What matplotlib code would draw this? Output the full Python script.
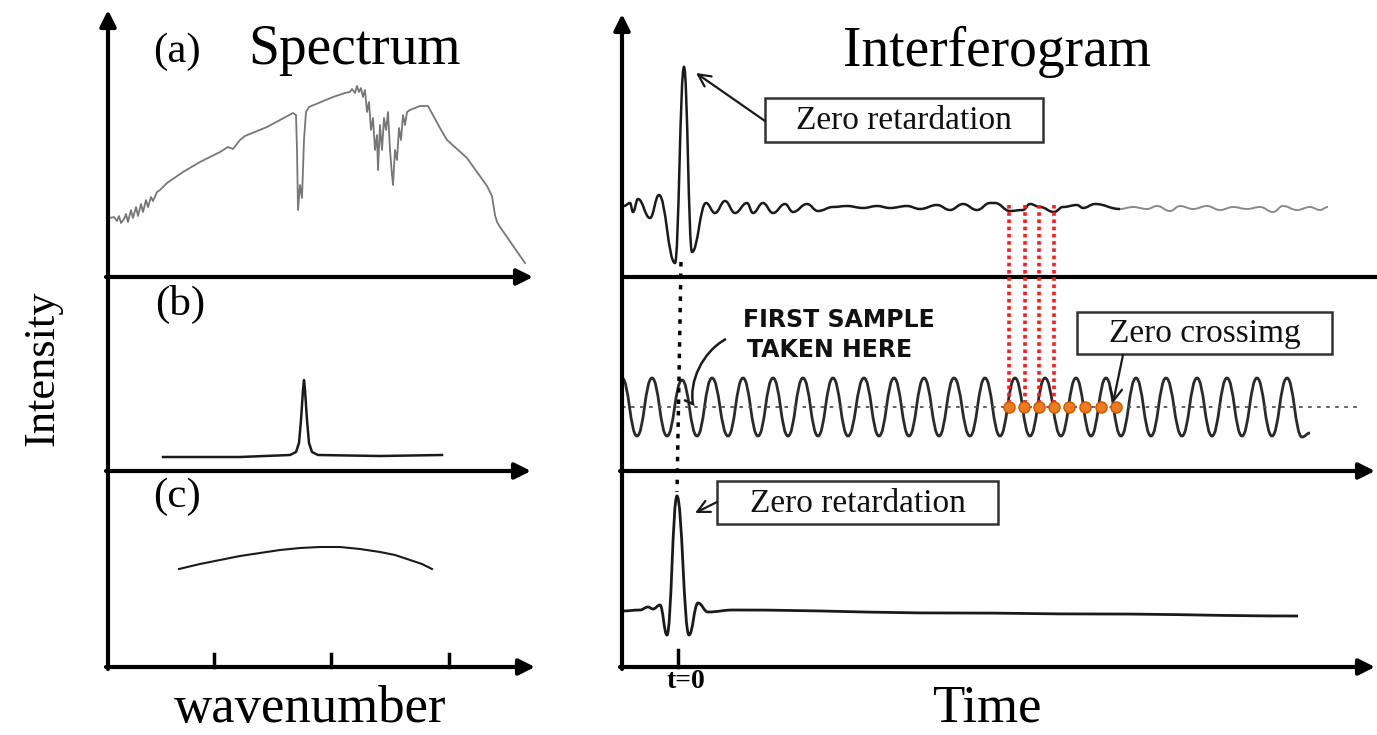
import numpy as np
import matplotlib
matplotlib.use("Agg")
import matplotlib.pyplot as plt
from matplotlib.path import Path
from matplotlib.patches import PathPatch, Rectangle

# all values, in picture pixels (x right, y down)

# (a) spectrum trace
spec_x = [110, 114, 117, 119, 121, 124, 126, 128, 131, 133, 136, 138, 141, 143, 146, 148,
          151, 153, 157, 160, 167, 183, 200, 220, 228, 233, 240, 245, 267, 293, 296, 297,
          298, 300, 302, 304, 306, 309, 333, 345, 350, 352, 355, 357, 359, 361, 363, 365,
          367, 369, 371, 373, 375, 377, 378, 380, 382, 384, 386, 388, 390, 392, 393, 395,
          397, 399, 401, 403, 405, 407, 410, 415, 420, 428, 440, 447, 467, 487, 492, 495,
          497, 500, 525]
spec_y = [218, 217, 221, 216, 223, 219, 214, 222, 210, 218, 207, 216, 204, 212, 200, 207,
          197, 201, 192, 190, 183, 172, 162, 152, 147, 149, 140, 136, 127, 113, 115, 150,
          210, 185, 198, 140, 112, 107, 97, 93, 92, 89, 93, 86, 92, 88, 97, 90,
          112, 102, 130, 118, 150, 135, 170, 125, 150, 118, 130, 112, 150, 175, 185, 150,
          160, 128, 140, 115, 125, 112, 110, 108, 106, 106, 128, 140, 158, 186, 196, 215,
          222, 227, 263]

# (b) single line
line_x = [163, 240, 290, 296, 299, 301, 303, 304, 305, 307, 309, 312, 318, 380, 442]
line_y = [457, 457, 455, 452, 443, 420, 390, 380, 390, 420, 443, 452, 455, 456, 455]

# (c) broad band
band_x = [179, 200, 220, 240, 260, 280, 300, 320, 340, 360, 380, 395, 410, 422, 432]
band_y = [569, 564, 560, 556, 553, 550, 548, 547, 547, 549, 552, 555, 560, 564, 569]

# interferogram (a): extrema of the trace
ifg_a_x = [624, 630, 633, 638, 650, 659, 675, 684, 692, 706, 715, 725, 735, 747, 753, 763,
           773, 785, 793, 807, 818, 833, 847, 863, 877, 890, 907, 920, 937, 950, 963, 977,
           990, 995, 1010, 1023, 1030, 1040, 1054, 1063, 1077, 1083, 1095, 1120]
ifg_a_y = [206, 203, 212, 199, 218, 195, 263, 67, 252, 203, 213, 201, 213, 203, 213, 203,
           213, 204, 212, 204, 211, 207, 206, 208, 206, 208, 206, 209, 205, 210, 204, 210,
           203, 203, 211, 210, 204, 207, 212, 207, 205, 208, 204, 209]
ifg_a_tail_x = [1120, 1133, 1147, 1157, 1170, 1180, 1193, 1207, 1220, 1233, 1247, 1260,
                1273, 1283, 1297, 1310, 1320, 1328]
ifg_a_tail_y = [209, 207, 209, 206, 211, 206, 209, 206, 210, 207, 209, 207,
                212, 206, 210, 207, 210, 207]

# interferogram (b): peaks / troughs of the monochromatic cosine
cos_x = [622, 637, 652, 667, 682, 697, 712, 728, 743, 758, 773, 788, 803, 818, 833, 848,
         864, 879, 894, 909, 924, 939, 954, 970, 985, 1000, 1015, 1030, 1045, 1061, 1076,
         1091, 1106, 1121, 1136, 1151, 1166, 1182, 1197, 1212, 1227, 1242, 1257, 1272,
         1287, 1302, 1310]
cos_y = [378, 436, 378, 436, 380, 436, 378, 436, 378, 436, 378, 436, 378, 436, 378, 436,
         378, 436, 378, 436, 378, 436, 378, 436, 378, 436, 378, 436, 378, 436, 378,
         436, 378, 436, 378, 436, 378, 436, 378, 436, 378, 436, 378, 436,
         378, 437, 433]
zero_y = 407
cross_x = [1009, 1024, 1039, 1054, 1069, 1085, 1101, 1116]
sample_x = [1009, 1025, 1039, 1054]

# interferogram (c): extrema of the trace
ifg_c_x = [622, 640, 648, 653, 660, 667, 677, 689, 698, 708, 733, 953, 1100, 1298]
ifg_c_y = [611, 610, 607, 609, 605, 635, 496, 635, 603, 612, 610, 613, 614, 616]

spec_ticks = [214, 331, 449]


def smooth_path(xs, ys, k=0.42):
    # cubic segments with flat tangents at every listed extremum
    verts = [(xs[0], ys[0])]
    codes = [Path.MOVETO]
    for i in range(1, len(xs)):
        h = xs[i] - xs[i - 1]
        verts += [(xs[i - 1] + k * h, ys[i - 1]), (xs[i] - k * h, ys[i]), (xs[i], ys[i])]
        codes += [Path.CURVE4] * 3
    return Path(verts, codes)


fig = plt.figure(figsize=(13.77, 7.35), dpi=100)
ax = fig.add_axes([0, 0, 1, 1])
ax.set_xlim(0, 1377)
ax.set_ylim(735, 0)
ax.axis('off')

serif = 'Liberation Serif'
ink = '#1a1a1a'

# axes frames
arw = dict(arrowstyle='-|>', lw=3, color='k', mutation_scale=24, shrinkA=0, shrinkB=0)
ax.annotate('', xy=(108, 10), xytext=(108, 669), arrowprops=arw)
ax.annotate('', xy=(622, 14), xytext=(622, 669), arrowprops=arw)
ax.annotate('', xy=(533, 277), xytext=(106, 277), arrowprops=arw)
ax.annotate('', xy=(531, 471), xytext=(106, 471), arrowprops=arw)
ax.annotate('', xy=(535, 667), xytext=(106, 667), arrowprops=arw)
ax.plot([620, 1377], [277, 277], color='k', lw=3, solid_capstyle='butt')
ax.annotate('', xy=(1375, 471), xytext=(620, 471), arrowprops=arw)
ax.annotate('', xy=(1375, 667), xytext=(620, 667), arrowprops=arw)
for tx in spec_ticks:
    ax.plot([tx, tx], [667, 654], color='k', lw=2.5)
ax.plot([678, 678], [667, 650], color='k', lw=2.5)

# spectra
ax.plot(spec_x, spec_y, color='#777777', lw=1.3)
ax.plot(line_x, line_y, color=ink, lw=1.8)
ax.plot(band_x, band_y, color=ink, lw=1.5)

# interferograms
ax.add_patch(PathPatch(smooth_path(ifg_a_x, ifg_a_y), fill=False, ec=ink, lw=1.8))
ax.add_patch(PathPatch(smooth_path(ifg_a_tail_x, ifg_a_tail_y), fill=False, ec='#8a8a8a', lw=1.4))
ax.plot([622, 1362], [zero_y, zero_y], color='#555555', lw=1.3, ls=(0, (2, 3)))
ax.add_patch(PathPatch(smooth_path(cos_x, cos_y, k=0.45), fill=False, ec='#2a2a2a', lw=2.0))
ax.add_patch(PathPatch(smooth_path(ifg_c_x, ifg_c_y), fill=False, ec=ink, lw=2.0))

# sampling marks
ax.plot([681, 677], [262, 492], color='k', lw=2.5, ls=(0, (1.3, 2)))
for sx in sample_x:
    ax.plot([sx, sx], [205, zero_y], color='#ff1a1a', lw=2.6, ls=(0, (1, 1)))
ax.plot(cross_x, [zero_y] * len(cross_x), 'o', ms=8, mfc='#f07a1e', mec='#c85a00', mew=1, zorder=5)

# boxed labels
for (x0, y0, x1, y1), lab in [((765, 98, 1043, 142), 'Zero retardation'),
                              ((717, 481, 998, 524), 'Zero retardation'),
                              ((1077, 312, 1332, 354), 'Zero crossimg')]:
    ax.add_patch(Rectangle((x0, y0), x1 - x0, y1 - y0, fill=False, ec='#333333', lw=1.8))
    ax.text((x0 + x1) / 2, (y0 + y1) / 2 + 1, lab, fontsize=24, family=serif,
            ha='center', va='center', color='#111111')

ap = dict(arrowstyle='->', lw=1.6, color=ink, mutation_scale=22, shrinkA=0, shrinkB=0)
ax.annotate('', xy=(696, 73), xytext=(765, 121), arrowprops=ap)
ax.annotate('', xy=(695, 513), xytext=(717, 502), arrowprops=ap)
ax.annotate('', xy=(1113, 403), xytext=(1123, 355), arrowprops=ap)

# hand drawn pointer for first sample
hook = Path([(726, 339), (702, 352), (689, 382), (693, 404), (684, 400)],
            [Path.MOVETO, Path.CURVE4, Path.CURVE4, Path.CURVE4, Path.LINETO])
ax.add_patch(PathPatch(hook, fill=False, ec=ink, lw=1.8))
ax.text(743, 320, 'FIRST SAMPLE', fontsize=17, family='DejaVu Sans', weight='bold',
        ha='left', va='center', color='#111111')
ax.text(747, 350, 'TAKEN HERE', fontsize=17, family='DejaVu Sans', weight='bold',
        ha='left', va='center', color='#111111')

# titles and axis words
ax.text(177, 52, '(a)', fontsize=31, family=serif, ha='center', va='center')
ax.text(180, 304, '(b)', fontsize=31, family=serif, ha='center', va='center')
ax.text(177, 497, '(c)', fontsize=31, family=serif, ha='center', va='center')
ax.text(248, 50, 'Spectrum', fontsize=40, family=serif, ha='left', va='center')
ax.text(997, 52, 'Interferogram', fontsize=40, family=serif, ha='center', va='center')
ax.text(310, 709, 'wavenumber', fontsize=38, family=serif, ha='center', va='center')
ax.text(987, 709, 'Time', fontsize=38, family=serif, ha='center', va='center')
ax.text(42, 368, 'Intensity', fontsize=32, family=serif, ha='center', va='center', rotation=90)
ax.text(686, 682, 't=0', fontsize=20, family=serif, weight='bold', ha='center', va='center')

fig.savefig('out.png', dpi=100)
